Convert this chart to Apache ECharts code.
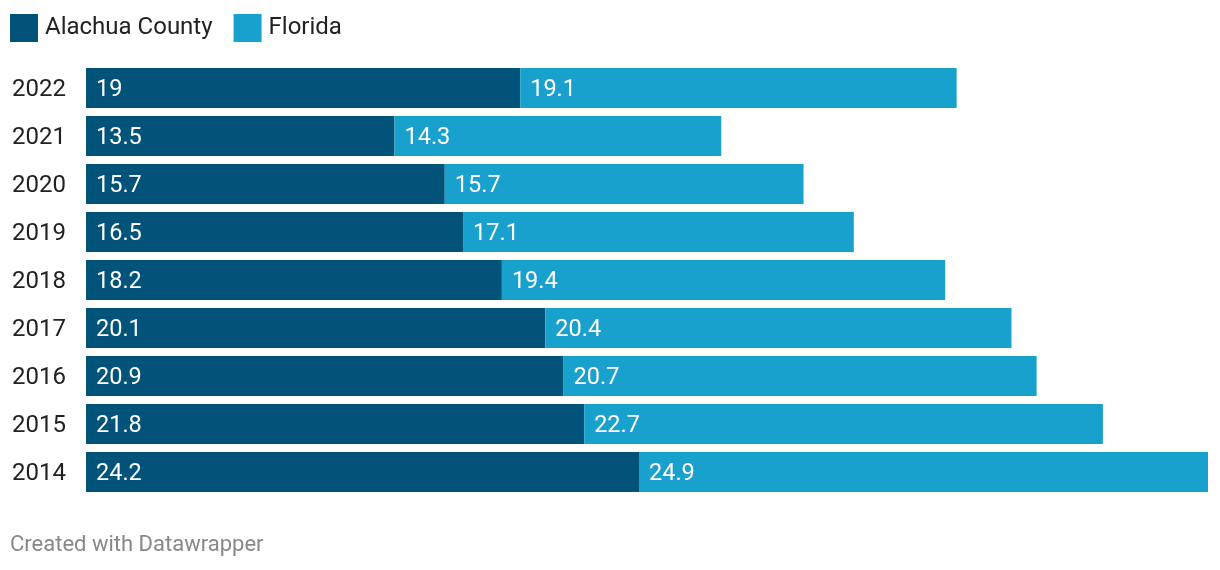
<!DOCTYPE html>
<html><head><meta charset="utf-8">
<script src="https://cdn.jsdelivr.net/npm/echarts@6/dist/echarts.min.js"></script>
<style>html,body{margin:0;padding:0;background:#fff}#c{width:1220px;height:570px}</style>
</head><body><div id="c"></div>
<script>
const years = ['2014','2015','2016','2017','2018','2019','2020','2021','2022'];
const alachua = [24.2,21.8,20.9,20.1,18.2,16.5,15.7,13.5,19];
const florida = [24.9,22.7,20.7,20.4,19.4,17.1,15.7,14.3,19.1];
const seriesNames = ['Alachua County','Florida'];
const colors = ['#01537a','#19a1cd'];
const font = 'Roboto, "Noto Sans", sans-serif';
const chart = echarts.init(document.getElementById('c'));
const lbl = {show:true, position:'insideLeft', distance:10, offset:[0,2], color:'#fff', fontSize:23.5, fontFamily:font};
chart.setOption({
  animation:false,
  color: colors,
  legend:{left:5, top:9, itemWidth:28, itemHeight:28, itemGap:21, icon:'rect',
    textStyle:{fontSize:24, color:'#222', fontFamily:font, padding:[0,0,0,2]}, data:seriesNames},
  grid:{left:86, right:12, top:64, bottom:74},
  xAxis:{type:'value', min:0, max:49.1, show:false},
  yAxis:{type:'category', data:years, axisLine:{show:false}, axisTick:{show:false},
    axisLabel:{align:'left', margin:74, fontSize:24, color:'#222', fontFamily:font, verticalAlign:'top', padding:[-10,0,0,0]}},
  series:[
    {name:seriesNames[0], type:'bar', stack:'a', data:alachua, barWidth:40, label:lbl},
    {name:seriesNames[1], type:'bar', stack:'a', data:florida, barWidth:40, label:lbl}
  ],
  graphic:[{type:'text', left:10, top:534, style:{text:'Created with Datawrapper', fill:'#888', fontSize:22, fontFamily:font}}]
});
</script></body></html>
